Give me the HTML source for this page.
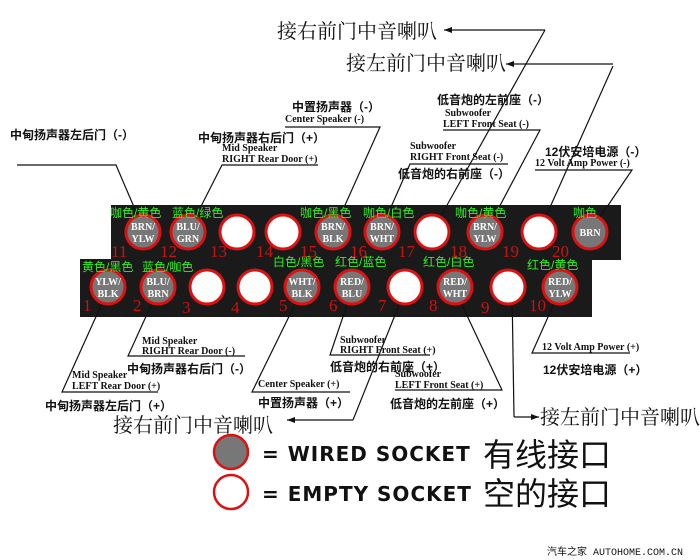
<!DOCTYPE html>
<html><head><meta charset="utf-8"><style>
html,body{margin:0;padding:0;background:#fff;width:700px;height:560px;overflow:hidden}
svg{display:block}
.cn{font-family:"Liberation Sans","Noto Sans CJK SC",sans-serif;font-weight:bold;font-size:12px;fill:#111}
.en{font-family:"Liberation Serif",serif;font-weight:bold;font-size:10px;fill:#111}
.big{font-family:"Liberation Serif","Noto Serif CJK SC",serif;font-size:20px;fill:#111}
.g{font-family:"Liberation Sans","Noto Sans CJK SC",sans-serif;font-size:12px;fill:#33ee22}
.n{font-family:"Liberation Serif",serif;font-size:17px;fill:#cc1111}
.w{font-family:"Liberation Serif",serif;font-weight:bold;font-size:10px;fill:#fff;text-anchor:middle}
line,polyline{stroke:#111;stroke-width:1.2;fill:none}
</style></head><body>
<svg width="700" height="560" viewBox="0 0 700 560" xmlns="http://www.w3.org/2000/svg">
<defs><marker id="a" markerWidth="8" markerHeight="6" refX="8" refY="3" orient="auto" markerUnits="userSpaceOnUse"><path d="M0,0 L8,3 L0,6z" fill="#111"/></marker></defs>
<rect x="111" y="205" width="510" height="55" fill="#1a1a1a"/>
<rect x="80" y="259" width="512" height="58" fill="#1a1a1a"/>
<text class="big" x="277" y="38">接右前门中音喇叭</text>
<text class="big" x="346" y="70">接左前门中音喇叭</text>
<line x1="545" y1="30" x2="444" y2="30" marker-end="url(#a)"/>
<line x1="545" y1="30" x2="432" y2="232"/>
<line x1="613" y1="64" x2="506" y2="64" marker-end="url(#a)"/>
<line x1="613" y1="66" x2="539" y2="232"/>
<text class="cn" x="10" y="139">中甸扬声器左后门（-）</text>
<polyline points="17,165 116,165 143,228"/>
<text class="cn" x="198" y="142">中甸扬声器右后门（+）</text>
<text class="en" x="222" y="151">Mid Speaker</text>
<text class="en" x="222" y="162">RIGHT Rear Door (+)</text>
<polyline points="318,165 222,165 188,232"/>
<text class="cn" x="292" y="111">中置扬声器（-）</text>
<text class="en" x="285" y="122">Center Speaker (-)</text>
<polyline points="285,127 380,127 333,232"/>
<text class="cn" x="437" y="104">低音炮的左前座（-）</text>
<text class="en" x="445" y="116">Subwoofer</text>
<text class="en" x="443" y="127">LEFT Front Seat (-)</text>
<polyline points="443,130 540,130 486,232"/>
<text class="en" x="410" y="149">Subwoofer</text>
<text class="en" x="410" y="160">RIGHT Front Seat (-)</text>
<polyline points="508,164 410,164 380,232"/>
<text class="cn" x="398" y="178">低音炮的右前座（-）</text>
<text class="cn" x="545" y="156">12伏安培电源（-）</text>
<text class="en" x="535" y="166">12 Volt Amp Power (-)</text>
<polyline points="535,170 632,170 590,232"/>
<polyline points="158,392 62,392 108,290"/>
<text class="en" x="72" y="378">Mid Speaker</text>
<text class="en" x="72" y="389">LEFT Rear Door (+)</text>
<text class="cn" x="45" y="410">中甸扬声器左后门（+）</text>
<polyline points="245,356 128,356 158,290"/>
<text class="en" x="142" y="344">Mid Speaker</text>
<text class="en" x="142" y="354">RIGHT Rear Door (-)</text>
<text class="cn" x="127" y="373">中甸扬声器右后门（-）</text>
<polyline points="350,392 252,392 302,290"/>
<text class="en" x="258" y="387">Center Speaker (+)</text>
<text class="cn" x="258" y="407">中置扬声器（+）</text>
<text class="big" x="113" y="432">接右前门中音喇叭</text>
<polyline points="430,355 330,355 352,290"/>
<text class="en" x="340" y="343">Subwoofer</text>
<text class="en" x="340" y="353">RIGHT Front Seat (+)</text>
<text class="cn" x="330" y="371">低音炮的右前座（+）</text>
<line x1="405" y1="290" x2="353" y2="420"/>
<line x1="353" y1="420" x2="287" y2="420" marker-end="url(#a)"/>
<polyline points="395,390 502,390 455,290"/>
<text class="en" x="395" y="377">Subwoofer</text>
<text class="en" x="395" y="388">LEFT Front Seat (+)</text>
<text class="cn" x="390" y="408">低音炮的左前座（+）</text>
<line x1="512" y1="290" x2="514" y2="417"/>
<line x1="514" y1="417" x2="539" y2="417" marker-end="url(#a)"/>
<text class="big" x="540" y="424">接左前门中音喇叭</text>
<polyline points="630,353 532,353 560,290"/>
<text class="en" x="542" y="350">12 Volt Amp Power (+)</text>
<text class="cn" x="543" y="374">12伏安培电源（+）</text>
<g stroke="#dd1111" stroke-width="3">
<circle cx="143" cy="232" r="17" fill="#777"/>
<circle cx="188" cy="232" r="17" fill="#777"/>
<circle cx="237" cy="232" r="17" fill="#fff"/>
<circle cx="283" cy="232" r="17" fill="#fff"/>
<circle cx="333" cy="232" r="17" fill="#777"/>
<circle cx="382" cy="232" r="17" fill="#777"/>
<circle cx="432" cy="232" r="17" fill="#fff"/>
<circle cx="485" cy="232" r="17" fill="#777"/>
<circle cx="539" cy="232" r="17" fill="#fff"/>
<circle cx="590" cy="232" r="17" fill="#777"/>
<circle cx="108" cy="287" r="17" fill="#777"/>
<circle cx="158" cy="287" r="17" fill="#777"/>
<circle cx="207" cy="287" r="17" fill="#fff"/>
<circle cx="255" cy="287" r="17" fill="#fff"/>
<circle cx="302" cy="287" r="17" fill="#777"/>
<circle cx="352" cy="287" r="17" fill="#777"/>
<circle cx="405" cy="287" r="17" fill="#fff"/>
<circle cx="455" cy="287" r="17" fill="#777"/>
<circle cx="508" cy="287" r="17" fill="#fff"/>
<circle cx="560" cy="287" r="17" fill="#777"/>
</g>
<g>
<text class="w" x="143" y="230">BRN/</text><text class="w" x="143" y="242">YLW</text>
<text class="w" x="188" y="230">BLU/</text><text class="w" x="188" y="242">GRN</text>
<text class="w" x="333" y="230">BRN/</text><text class="w" x="333" y="242">BLK</text>
<text class="w" x="382" y="230">BRN/</text><text class="w" x="382" y="242">WHT</text>
<text class="w" x="485" y="230">BRN/</text><text class="w" x="485" y="242">YLW</text>
<text class="w" x="590" y="236">BRN</text>
<text class="w" x="108" y="285">YLW/</text><text class="w" x="108" y="297">BLK</text>
<text class="w" x="158" y="285">BLU/</text><text class="w" x="158" y="297">BRN</text>
<text class="w" x="302" y="285">WHT/</text><text class="w" x="302" y="297">BLK</text>
<text class="w" x="352" y="285">RED/</text><text class="w" x="352" y="297">BLU</text>
<text class="w" x="455" y="285">RED/</text><text class="w" x="455" y="297">WHT</text>
<text class="w" x="560" y="285">RED/</text><text class="w" x="560" y="297">YLW</text>
</g>
<text class="g" x="110" y="217">咖色/黄色</text>
<text class="g" x="172" y="217">蓝色/绿色</text>
<text class="g" x="300" y="217">咖色/黑色</text>
<text class="g" x="363" y="217">咖色/白色</text>
<text class="g" x="455" y="217">咖色/黄色</text>
<text class="g" x="573" y="217">咖色</text>
<text class="g" x="82" y="271">黄色/黑色</text>
<text class="g" x="142" y="271">蓝色/咖色</text>
<text class="g" x="273" y="266">白色/黑色</text>
<text class="g" x="335" y="266">红色/蓝色</text>
<text class="g" x="423" y="266">红色/白色</text>
<text class="g" x="527" y="269">红色/黄色</text>
<text class="n" x="111" y="257">11</text><text class="n" x="160" y="257">12</text>
<text class="n" x="210" y="257">13</text><text class="n" x="256" y="257">14</text>
<text class="n" x="300" y="257">15</text><text class="n" x="350" y="257">16</text>
<text class="n" x="398" y="257">17</text><text class="n" x="450" y="257">18</text>
<text class="n" x="502" y="257">19</text><text class="n" x="552" y="257">20</text>
<text class="n" x="83" y="311">1</text><text class="n" x="133" y="311">2</text>
<text class="n" x="182" y="313">3</text><text class="n" x="231" y="313">4</text>
<text class="n" x="279" y="311">5</text><text class="n" x="329" y="311">6</text>
<text class="n" x="378" y="311">7</text><text class="n" x="429" y="311">8</text>
<text class="n" x="481" y="313">9</text><text class="n" x="529" y="311">10</text>
<circle cx="231" cy="452" r="17" fill="#777" stroke="#dd1111" stroke-width="2.5"/>
<circle cx="231" cy="492" r="17" fill="#fff" stroke="#dd1111" stroke-width="2.5"/>
<text x="262" y="461" style="font-family:'DejaVu Sans',sans-serif;font-weight:bold;font-size:20px;letter-spacing:1px" fill="#111">= WIRED SOCKET</text>
<text x="262" y="501" style="font-family:'DejaVu Sans',sans-serif;font-weight:bold;font-size:20px;letter-spacing:1px" fill="#111">= EMPTY SOCKET</text>
<text x="483" y="466" style="font-family:'Noto Sans CJK SC',sans-serif;font-size:32px" fill="#111">有线接口</text>
<text x="483" y="505" style="font-family:'Noto Sans CJK SC',sans-serif;font-size:32px" fill="#111">空的接口</text>
<text x="547" y="555" style="font-family:'Liberation Mono','Noto Sans CJK SC',monospace;font-size:10px" fill="#111">汽车之家 AUTOHOME.COM.CN</text>
</svg>
</body></html>
